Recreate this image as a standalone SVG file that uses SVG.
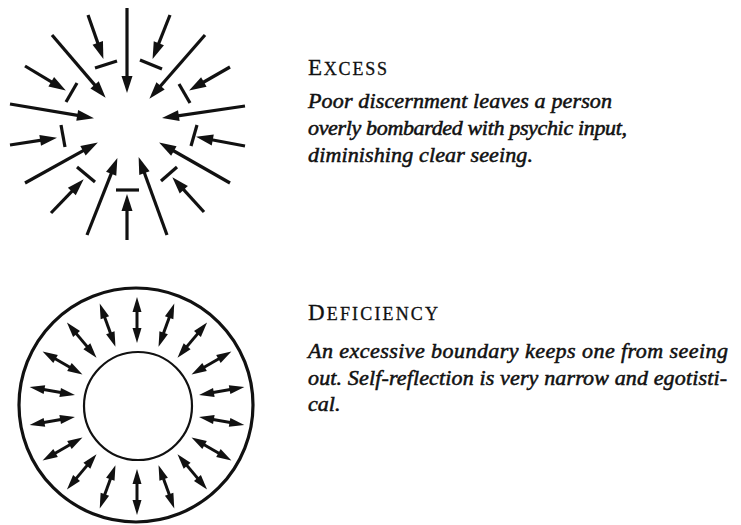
<svg xmlns="http://www.w3.org/2000/svg" width="741" height="525" viewBox="0 0 741 525">
<defs>
<style>
.a{stroke:#111;stroke-width:3.2;fill:none;marker-end:url(#ah)}
.b{stroke:#111;stroke-width:3.2;fill:none;stroke-linecap:butt}
.d{stroke:#111;stroke-width:3;fill:none;marker-start:url(#dh);marker-end:url(#dh)}
.ring{fill:none;stroke:#111}
.hd{font-family:"Liberation Serif",serif;fill:#111;stroke:#111;stroke-width:0.3}
.bd{font-family:"Liberation Serif",serif;font-style:italic;font-size:22px;fill:#111;stroke:#111;stroke-width:0.55}
</style>
<marker id="ah" markerUnits="userSpaceOnUse" markerWidth="18" markerHeight="12" refX="8" refY="5.5" orient="auto" overflow="visible"><path d="M0,0 L17,5.5 L0,11 Z" fill="#111"/></marker>
<marker id="dh" markerUnits="userSpaceOnUse" markerWidth="16" markerHeight="10" refX="8" refY="4.5" orient="auto-start-reverse" overflow="visible"><path d="M0,0 L15,4.5 L0,9 Z" fill="#111"/></marker>
</defs>
<rect width="741" height="525" fill="#fff"/>
<g id="excess-figure">
<g id="excess-arrows">
<line class="a" x1="127" y1="8" x2="127" y2="84"/>
<line class="a" x1="52" y1="35" x2="99.8" y2="90.9"/>
<line class="a" x1="205" y1="35" x2="155.3" y2="92"/>
<line class="a" x1="10" y1="104" x2="85.1" y2="116.7"/>
<line class="a" x1="245" y1="106" x2="170.9" y2="116.8"/>
<line class="a" x1="25" y1="183" x2="90" y2="146.9"/>
<line class="a" x1="230" y1="183" x2="166.9" y2="147"/>
<line class="a" x1="87" y1="235" x2="114.1" y2="166.4"/>
<line class="a" x1="167" y1="235" x2="141.7" y2="165.5"/>
<line class="a" x1="88" y1="15" x2="100.4" y2="50.4"/>
<line class="a" x1="170" y1="15" x2="155.9" y2="50.6"/>
<line class="a" x1="25" y1="66" x2="58.1" y2="85.9"/>
<line class="a" x1="230" y1="67" x2="196.9" y2="86"/>
<line class="a" x1="10" y1="145" x2="48.1" y2="139.2"/>
<line class="a" x1="245" y1="146" x2="204.9" y2="138.5"/>
<line class="a" x1="51" y1="213" x2="77.4" y2="185.7"/>
<line class="a" x1="204" y1="212" x2="178.4" y2="183.9"/>
<line class="a" x1="127" y1="240" x2="127" y2="203"/>
</g>
<g id="excess-bars">
<line class="b" x1="95" y1="68" x2="117" y2="61"/>
<line class="b" x1="140" y1="60" x2="162" y2="69"/>
<line class="b" x1="66" y1="102" x2="77" y2="83"/>
<line class="b" x1="179" y1="84" x2="190" y2="103"/>
<line class="b" x1="61" y1="125" x2="65" y2="147"/>
<line class="b" x1="197" y1="125" x2="191" y2="146"/>
<line class="b" x1="77" y1="167" x2="95" y2="182"/>
<line class="b" x1="161" y1="181" x2="177" y2="167"/>
<line class="b" x1="116" y1="190" x2="139" y2="190"/>
</g>
</g>
<g id="deficiency-figure">
<g id="deficiency-rings">
<circle class="ring" cx="136" cy="405" r="117" stroke-width="3.2"/>
<circle class="ring" cx="138" cy="406" r="54" stroke-width="2.2"/>
</g>
<g id="deficiency-arrows">
<line class="d" x1="207" y1="406" x2="239" y2="406" transform="rotate(10 137 406)"/>
<line class="d" x1="207" y1="406" x2="239" y2="406" transform="rotate(30 137 406)"/>
<line class="d" x1="207" y1="406" x2="239" y2="406" transform="rotate(50 137 406)"/>
<line class="d" x1="207" y1="406" x2="239" y2="406" transform="rotate(70 137 406)"/>
<line class="d" x1="207" y1="406" x2="239" y2="406" transform="rotate(90 137 406)"/>
<line class="d" x1="207" y1="406" x2="239" y2="406" transform="rotate(110 137 406)"/>
<line class="d" x1="207" y1="406" x2="239" y2="406" transform="rotate(130 137 406)"/>
<line class="d" x1="207" y1="406" x2="239" y2="406" transform="rotate(150 137 406)"/>
<line class="d" x1="207" y1="406" x2="239" y2="406" transform="rotate(170 137 406)"/>
<line class="d" x1="207" y1="406" x2="239" y2="406" transform="rotate(190 137 406)"/>
<line class="d" x1="207" y1="406" x2="239" y2="406" transform="rotate(210 137 406)"/>
<line class="d" x1="207" y1="406" x2="239" y2="406" transform="rotate(230 137 406)"/>
<line class="d" x1="207" y1="406" x2="239" y2="406" transform="rotate(250 137 406)"/>
<line class="d" x1="207" y1="406" x2="239" y2="406" transform="rotate(270 137 406)"/>
<line class="d" x1="207" y1="406" x2="239" y2="406" transform="rotate(290 137 406)"/>
<line class="d" x1="207" y1="406" x2="239" y2="406" transform="rotate(310 137 406)"/>
<line class="d" x1="207" y1="406" x2="239" y2="406" transform="rotate(330 137 406)"/>
<line class="d" x1="207" y1="406" x2="239" y2="406" transform="rotate(350 137 406)"/>
</g>
</g>
<g id="excess-text">
<text class="hd" x="308" y="75" textLength="79" lengthAdjust="spacing"><tspan font-size="23">E</tspan><tspan font-size="18">XCESS</tspan></text>
<text class="bd" x="308" y="108" textLength="304" lengthAdjust="spacing">Poor discernment leaves a person</text>
<text class="bd" x="308" y="135" textLength="319" lengthAdjust="spacing">overly bombarded with psychic input,</text>
<text class="bd" x="308" y="162" textLength="225" lengthAdjust="spacing">diminishing clear seeing.</text>
</g>
<g id="deficiency-text">
<text class="hd" x="308" y="320" textLength="130" lengthAdjust="spacing"><tspan font-size="23">D</tspan><tspan font-size="18">EFICIENCY</tspan></text>
<text class="bd" x="308" y="358" textLength="420" lengthAdjust="spacing">An excessive boundary keeps one from seeing</text>
<text class="bd" x="308" y="385" textLength="419" lengthAdjust="spacing">out. Self-reflection is very narrow and egotisti-</text>
<text class="bd" x="308" y="411">cal.</text>
</g>
</svg>
